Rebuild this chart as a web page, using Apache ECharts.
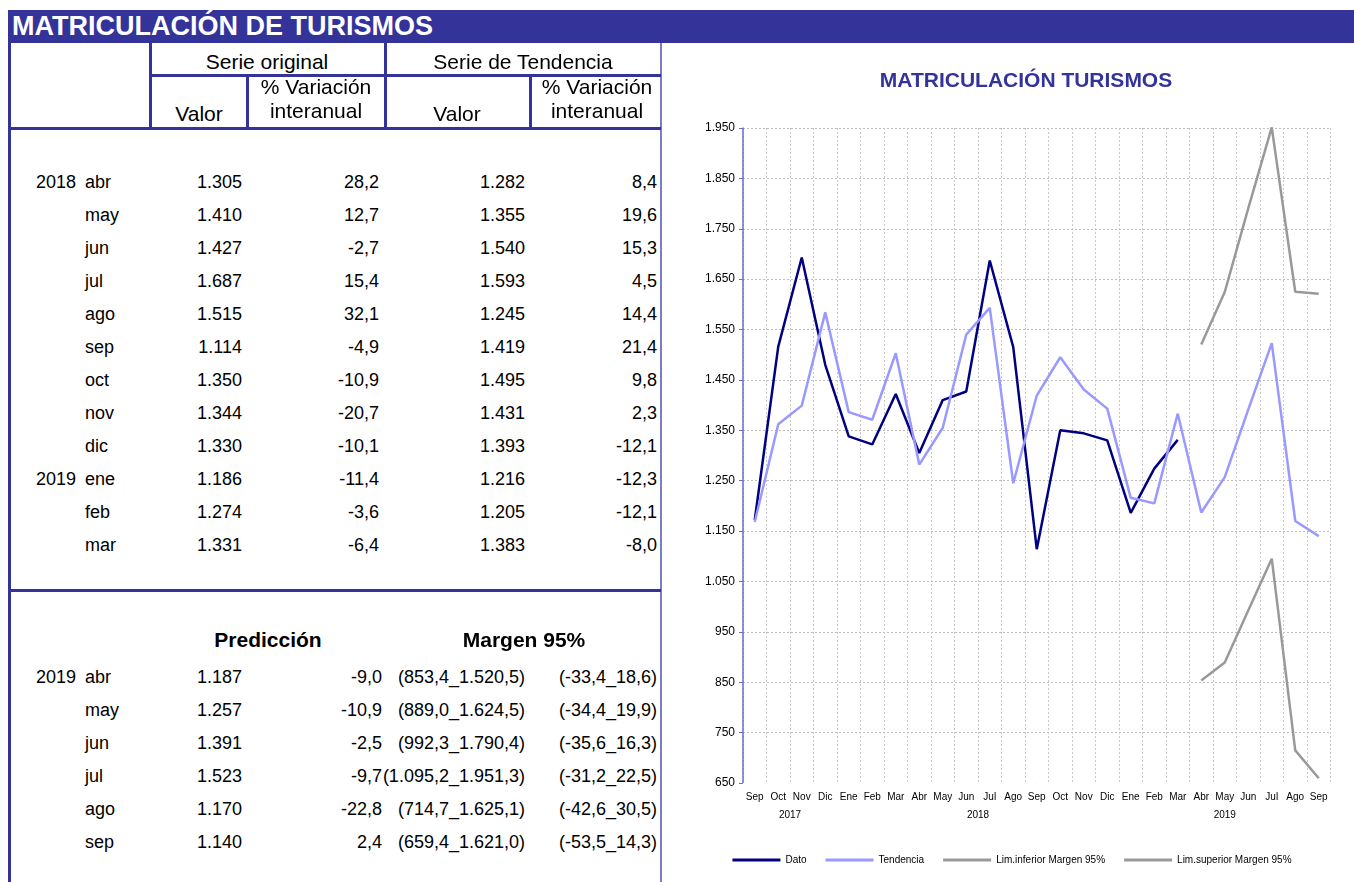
<!DOCTYPE html>
<html>
<head>
<meta charset="utf-8">
<title>Matriculación de turismos</title>
<script src="https://cdn.jsdelivr.net/npm/echarts@6/dist/echarts.min.js"></script>
<style>
  html, body { margin: 0; padding: 0; background: #fff; }
  #page { position: relative; width: 1354px; height: 882px; overflow: hidden;
          font-family: "Liberation Sans", Arial, sans-serif; }
  .t { position: absolute; white-space: nowrap; color: #000; font-size: 18px; line-height: 20px; }
  .h { font-size: 21px; line-height: 24px; }
  .b { font-weight: bold; font-size: 21px; }
  .ln { position: absolute; background: #333399; }
  #bar { position: absolute; left: 8px; top: 10px; width: 1346px; height: 33px; background: #333399; }
  #bar span { position: absolute; left: 4px; top: 1px; color: #fff; font-weight: bold;
              font-size: 27px; line-height: 31px; white-space: nowrap; }
  #chart { position: absolute; left: 670px; top: 44px; width: 684px; height: 838px; }
</style>
</head>
<body>
<div id="page">
  <div id="bar"><span>MATRICULACIÓN DE TURISMOS</span></div>
  <div id="chart"></div>
</div>
<script>
// ---- Observed series (last twelve months) ----
const meses = ['abr', 'may', 'jun', 'jul', 'ago', 'sep', 'oct', 'nov', 'dic', 'ene', 'feb', 'mar'];
const anyos = ['2018', '', '', '', '', '', '', '', '', '2019', '', ''];
const valorOriginal = [1305, 1410, 1427, 1687, 1515, 1114, 1350, 1344, 1330, 1186, 1274, 1331];
const varOriginal = [28.2, 12.7, -2.7, 15.4, 32.1, -4.9, -10.9, -20.7, -10.1, -11.4, -3.6, -6.4];
const valorTendencia = [1282, 1355, 1540, 1593, 1245, 1419, 1495, 1431, 1393, 1216, 1205, 1383];
const varTendencia = [8.4, 19.6, 15.3, 4.5, 14.4, 21.4, 9.8, 2.3, -12.1, -12.3, -12.1, -8.0];

// ---- Forecast ----
const anyosPred = ['2019', '', '', '', '', ''];
const mesesPred = ['abr', 'may', 'jun', 'jul', 'ago', 'sep'];
const prediccion = [1187, 1257, 1391, 1523, 1170, 1140];
const varPrediccion = [-9.0, -10.9, -2.5, -9.7, -22.8, 2.4];
const limInferior = [853.4, 889.0, 992.3, 1095.2, 714.7, 659.4];
const limSuperior = [1520.5, 1624.5, 1790.4, 1951.3, 1625.1, 1621.0];
const varInferior = [-33.4, -34.4, -35.6, -31.2, -42.6, -53.5];
const varSuperior = [18.6, 19.9, 16.3, 22.5, 30.5, 14.3];

// ---- Earlier months shown only in the chart (Sep 2017 - Mar 2018) ----
const datoPrevio = [1172, 1516, 1693, 1480, 1338, 1322, 1422];
const tendenciaPrevia = [1168, 1362, 1399, 1584, 1386, 1371, 1503];

// ---- Axis labels ----
const mesesEje = ['Sep', 'Oct', 'Nov', 'Dic', 'Ene', 'Feb', 'Mar', 'Abr', 'May', 'Jun', 'Jul', 'Ago',
                  'Sep', 'Oct', 'Nov', 'Dic', 'Ene', 'Feb', 'Mar', 'Abr', 'May', 'Jun', 'Jul', 'Ago', 'Sep'];
const grupoAnyos = [['2017', 4], ['2018', 12], ['2019', 9]];
const ejeY = { min: 650, max: 1950, paso: 100 };

// Spanish number format: thousands with '.', decimals with ','
function fmt(v, dec) {
  const neg = v < 0;
  const s = Math.abs(v).toFixed(dec);
  const parts = s.split('.');
  const ent = parts[0].replace(/\B(?=(\d{3})+(?!\d))/g, '.');
  return (neg ? '-' : '') + ent + (parts.length > 1 ? ',' + parts[1] : '');
}

// ---------- table ----------
const page = document.getElementById('page');
function txt(s, x, yc, align, cls) {
  const d = document.createElement('div');
  d.className = 't' + (cls ? ' ' + cls : '');
  d.textContent = s;
  d.style.top = (yc - (cls ? 12 : 10)) + 'px';
  if (align === 'r') { d.style.right = (1354 - x) + 'px'; }
  else if (align === 'c') { d.style.left = (x - 200) + 'px'; d.style.width = '400px'; d.style.textAlign = 'center'; }
  else { d.style.left = x + 'px'; }
  page.appendChild(d);
}
function line(x, y, w, h, color) {
  const d = document.createElement('div');
  d.className = 'ln';
  d.style.left = x + 'px'; d.style.top = y + 'px';
  d.style.width = w + 'px'; d.style.height = h + 'px';
  if (color) d.style.background = color;
  page.appendChild(d);
}

// frame
line(8, 43, 3, 839);
line(660, 43, 2, 839, '#7b7bc6');
line(149, 43, 3, 86);
line(384, 43, 3, 86);
line(246, 75, 3, 54);
line(529, 75, 3, 54);
line(149, 74, 512, 3);
line(8, 127, 653, 3);
line(8, 589, 653, 3);

// header
txt('Serie original', 267, 62, 'c', 'h');
txt('Serie de Tendencia', 523, 62, 'c', 'h');
txt('Valor', 199, 114, 'c', 'h');
txt('% Variación', 316, 87, 'c', 'h');
txt('interanual', 316, 111, 'c', 'h');
txt('Valor', 457, 114, 'c', 'h');
txt('% Variación', 597, 87, 'c', 'h');
txt('interanual', 597, 111, 'c', 'h');

// observed rows
meses.forEach((m, i) => {
  const y = 181.5 + i * 33;
  if (anyos[i]) txt(anyos[i], 76, y, 'r');
  txt(m, 85, y, 'l');
  txt(fmt(valorOriginal[i], 0), 242, y, 'r');
  txt(fmt(varOriginal[i], 1), 379, y, 'r');
  txt(fmt(valorTendencia[i], 0), 525, y, 'r');
  txt(fmt(varTendencia[i], 1), 657, y, 'r');
});

// forecast block
txt('Predicción', 268, 642, 'c', 'b');
txt('Margen 95%', 524, 642, 'c', 'b');
mesesPred.forEach((m, i) => {
  const y = 677 + i * 32.9;
  if (anyosPred[i]) txt(anyosPred[i], 76, y, 'r');
  txt(m, 85, y, 'l');
  txt(fmt(prediccion[i], 0), 242, y, 'r');
  txt(fmt(varPrediccion[i], 1), 382, y, 'r');
  txt('(' + fmt(limInferior[i], 1) + '_' + fmt(limSuperior[i], 1) + ')', 525, y, 'r');
  txt('(' + fmt(varInferior[i], 1) + '_' + fmt(varSuperior[i], 1) + ')', 657, y, 'r');
});

// ---------- chart ----------
const nObs = datoPrevio.length + valorOriginal.length;
const vacios = (n) => new Array(n).fill(null);
const serieDato = datoPrevio.concat(valorOriginal, vacios(prediccion.length));
const serieTendencia = tendenciaPrevia.concat(valorTendencia, prediccion);
const serieInferior = vacios(nObs).concat(limInferior);
const serieSuperior = vacios(nObs).concat(limSuperior);

// year labels sit in the middle of each year's span of months
const centrosAnyo = {};
let acum = 0;
grupoAnyos.forEach(([a, n]) => { centrosAnyo[(acum + n / 2).toFixed(1)] = a; acum += n; });

const FONT = '"Liberation Sans", Arial, sans-serif';
const chart = echarts.init(document.getElementById('chart'), null, { renderer: 'canvas' });
const lineaSerie = (name, data, color) => ({
  name, type: 'line', data, symbol: 'none', showSymbol: false,
  connectNulls: false, lineStyle: { color, width: 2.5 }, itemStyle: { color },
  emphasis: { disabled: true }, animation: false
});

chart.setOption({
  animation: false,
  textStyle: { fontFamily: FONT },
  title: {
    text: 'MATRICULACIÓN TURISMOS',
    left: 351, top: 22, textAlign: 'center',
    textStyle: { color: '#333399', fontSize: 21, fontWeight: 'bold', fontFamily: FONT }
  },
  legend: {
    bottom: 12, left: 'center', icon: 'rect', itemWidth: 48, itemHeight: 3, itemGap: 19,
    textStyle: { fontSize: 10, color: '#000', fontFamily: FONT },
    data: ['Dato', 'Tendencia', 'Lim.inferior Margen 95%', 'Lim.superior Margen 95%']
  },
  grid: { left: 73, right: 23.5, top: 84, bottom: 99, containLabel: false },
  xAxis: [
    {
      type: 'category', data: mesesEje, boundaryGap: true,
      axisLine: { show: true, lineStyle: { color: '#fff', width: 1 } },
      axisTick: { show: false },
      axisLabel: { color: '#000', fontSize: 10, margin: 9, interval: 0, fontFamily: FONT },
      splitLine: { show: true, interval: 0, lineStyle: { color: '#c8c8c8', type: [2, 2], width: 1 } }
    },
    {
      type: 'value', min: 0, max: mesesEje.length, interval: 0.5, position: 'bottom', offset: 18,
      axisLine: { show: false }, axisTick: { show: false }, splitLine: { show: false },
      axisLabel: {
        color: '#000', fontSize: 10, margin: 9, fontFamily: FONT, showMinLabel: true, showMaxLabel: true,
        formatter: (v) => centrosAnyo[v.toFixed(1)] || ''
      }
    }
  ],
  yAxis: {
    type: 'value', min: ejeY.min, max: ejeY.max, interval: ejeY.paso,
    axisLine: { show: true, lineStyle: { color: '#6b6bd0', width: 1.5 } },
    axisTick: { show: true, length: 4, lineStyle: { color: '#6b6bd0' } },
    axisLabel: { color: '#000', fontSize: 12, margin: 8, fontFamily: FONT, formatter: (v) => fmt(v, 0) },
    splitLine: { show: true, lineStyle: { color: '#bdbdbd', type: [2, 2], width: 1 } }
  },
  series: [
    lineaSerie('Dato', serieDato, '#000080'),
    lineaSerie('Tendencia', serieTendencia, '#9999ff'),
    lineaSerie('Lim.inferior Margen 95%', serieInferior, '#999999'),
    lineaSerie('Lim.superior Margen 95%', serieSuperior, '#999999')
  ]
});
</script>
</body>
</html>
